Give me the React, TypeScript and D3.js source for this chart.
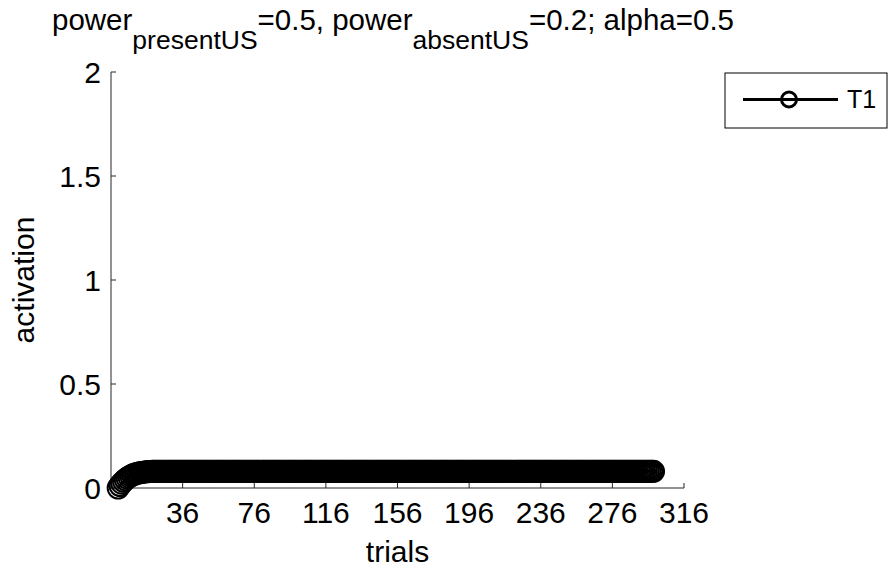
import React from 'react';
import * as d3 from 'd3';

// activation per trial (trial index 0..299)
const activation: number[] = [
  0, 0.012, 0.023, 0.032, 0.040, 0.047, 0.053, 0.058, 0.062, 0.066, 0.069, 0.071, 0.073, 0.075, 0.076, 0.077, 0.078, 0.079, 0.079, 0.080,
  0.08, 0.08, 0.08, 0.08, 0.08, 0.08, 0.08, 0.08, 0.08, 0.08, 0.08, 0.08, 0.08, 0.08, 0.08, 0.08, 0.08, 0.08, 0.08, 0.08,
  0.08, 0.08, 0.08, 0.08, 0.08, 0.08, 0.08, 0.08, 0.08, 0.08, 0.08, 0.08, 0.08, 0.08, 0.08, 0.08, 0.08, 0.08, 0.08, 0.08,
  0.08, 0.08, 0.08, 0.08, 0.08, 0.08, 0.08, 0.08, 0.08, 0.08, 0.08, 0.08, 0.08, 0.08, 0.08, 0.08, 0.08, 0.08, 0.08, 0.08,
  0.08, 0.08, 0.08, 0.08, 0.08, 0.08, 0.08, 0.08, 0.08, 0.08, 0.08, 0.08, 0.08, 0.08, 0.08, 0.08, 0.08, 0.08, 0.08, 0.08,
  0.08, 0.08, 0.08, 0.08, 0.08, 0.08, 0.08, 0.08, 0.08, 0.08, 0.08, 0.08, 0.08, 0.08, 0.08, 0.08, 0.08, 0.08, 0.08, 0.08,
  0.08, 0.08, 0.08, 0.08, 0.08, 0.08, 0.08, 0.08, 0.08, 0.08, 0.08, 0.08, 0.08, 0.08, 0.08, 0.08, 0.08, 0.08, 0.08, 0.08,
  0.08, 0.08, 0.08, 0.08, 0.08, 0.08, 0.08, 0.08, 0.08, 0.08, 0.08, 0.08, 0.08, 0.08, 0.08, 0.08, 0.08, 0.08, 0.08, 0.08,
  0.08, 0.08, 0.08, 0.08, 0.08, 0.08, 0.08, 0.08, 0.08, 0.08, 0.08, 0.08, 0.08, 0.08, 0.08, 0.08, 0.08, 0.08, 0.08, 0.08,
  0.08, 0.08, 0.08, 0.08, 0.08, 0.08, 0.08, 0.08, 0.08, 0.08, 0.08, 0.08, 0.08, 0.08, 0.08, 0.08, 0.08, 0.08, 0.08, 0.08,
  0.08, 0.08, 0.08, 0.08, 0.08, 0.08, 0.08, 0.08, 0.08, 0.08, 0.08, 0.08, 0.08, 0.08, 0.08, 0.08, 0.08, 0.08, 0.08, 0.08,
  0.08, 0.08, 0.08, 0.08, 0.08, 0.08, 0.08, 0.08, 0.08, 0.08, 0.08, 0.08, 0.08, 0.08, 0.08, 0.08, 0.08, 0.08, 0.08, 0.08,
  0.08, 0.08, 0.08, 0.08, 0.08, 0.08, 0.08, 0.08, 0.08, 0.08, 0.08, 0.08, 0.08, 0.08, 0.08, 0.08, 0.08, 0.08, 0.08, 0.08,
  0.08, 0.08, 0.08, 0.08, 0.08, 0.08, 0.08, 0.08, 0.08, 0.08, 0.08, 0.08, 0.08, 0.08, 0.08, 0.08, 0.08, 0.08, 0.08, 0.08,
  0.08, 0.08, 0.08, 0.08, 0.08, 0.08, 0.08, 0.08, 0.08, 0.08, 0.08, 0.08, 0.08, 0.08, 0.08, 0.08, 0.08, 0.08, 0.08, 0.08,
];

const xTicks = [36, 76, 116, 156, 196, 236, 276, 316];
const yTicks = [0, 0.5, 1, 1.5, 2];
const yTickLabels = ['0', '0.5', '1', '1.5', '2'];
const xDomain = [-4, 316];
const yDomain = [0, 2];
const seriesName = 'T1';
const xLabel = 'trials';
const yLabel = 'activation';

const FONT = '"Liberation Sans", Arial, Helvetica, sans-serif';

export default function App() {
  const W = 888, H = 572;
  const left = 111, right = 684, top = 72, bottom = 488;
  const x = d3.scaleLinear().domain(xDomain).range([left, right]);
  const y = d3.scaleLinear().domain(yDomain).range([bottom, top]);
  const trials = d3.range(activation.length);
  const line = d3.line<number>().x((_, i) => x(trials[i])).y(d => y(d));
  const axisColor = '#262626';
  const fs = 30;
  const titleFs = 29.5;
  const subFs = 26.5;
  const subDy = 19;

  return (
    <div style={{ position: 'fixed', left: 0, top: 0 }}>
      <svg width={W} height={H} style={{ display: 'block', background: '#fff' }} fontFamily={FONT}>
        <rect x={0} y={0} width={W} height={H} fill="#fff" />
        {/* title */}
        <text x={52} y={30} fontSize={titleFs} fill="#000">
          <tspan>power</tspan>
          <tspan fontSize={subFs} dy={subDy}>presentUS</tspan>
          <tspan dy={-subDy}>=0.5, power</tspan>
          <tspan fontSize={subFs} dy={subDy}>absentUS</tspan>
          <tspan dy={-subDy}>=0.2; alpha=0.5</tspan>
        </text>

        {/* axes */}
        <line x1={left} x2={left} y1={top} y2={bottom} stroke={axisColor} strokeWidth={1} />
        <line x1={left} x2={right} y1={bottom} y2={bottom} stroke={axisColor} strokeWidth={1} />
        {yTicks.map((t, i) => (
          <g key={'y' + i}>
            <line x1={left} x2={left + 5} y1={y(t)} y2={y(t)} stroke={axisColor} strokeWidth={1} />
            <text x={left - 10} y={y(t)} dy="0.36em" textAnchor="end" fontSize={fs} fill="#000">
              {yTickLabels[i]}
            </text>
          </g>
        ))}
        {xTicks.map((t, i) => (
          <g key={'x' + i}>
            <line x1={x(t)} x2={x(t)} y1={bottom} y2={bottom - 5} stroke={axisColor} strokeWidth={1} />
            <text x={x(t)} y={523} textAnchor="middle" fontSize={fs} fill="#000">
              {t}
            </text>
          </g>
        ))}
        <text x={(left + right) / 2} y={562} textAnchor="middle" fontSize={fs} fill="#000">
          {xLabel}
        </text>
        <text
          transform={`translate(33.5, ${(top + bottom) / 2}) rotate(-90)`}
          textAnchor="middle"
          fontSize={fs}
          fill="#000"
        >
          {yLabel}
        </text>

        {/* series */}
        <path d={line(activation) || ''} fill="none" stroke="#000" strokeWidth={2.5} />
        {activation.map((v, i) => (
          <circle key={i} cx={x(trials[i])} cy={y(v)} r={10.5} fill="none" stroke="#000" strokeWidth={2} />
        ))}

        {/* legend */}
        <rect x={725} y={73} width={162} height={55} fill="#fff" stroke="#000" strokeWidth={1} />
        <line x1={743} x2={838} y1={99.5} y2={99.5} stroke="#000" strokeWidth={3} />
        <circle cx={789} cy={99.5} r={7.5} fill="none" stroke="#000" strokeWidth={3} />
        <text x={847} y={108} fontSize={25} fill="#000">{seriesName}</text>
      </svg>
    </div>
  );
}
